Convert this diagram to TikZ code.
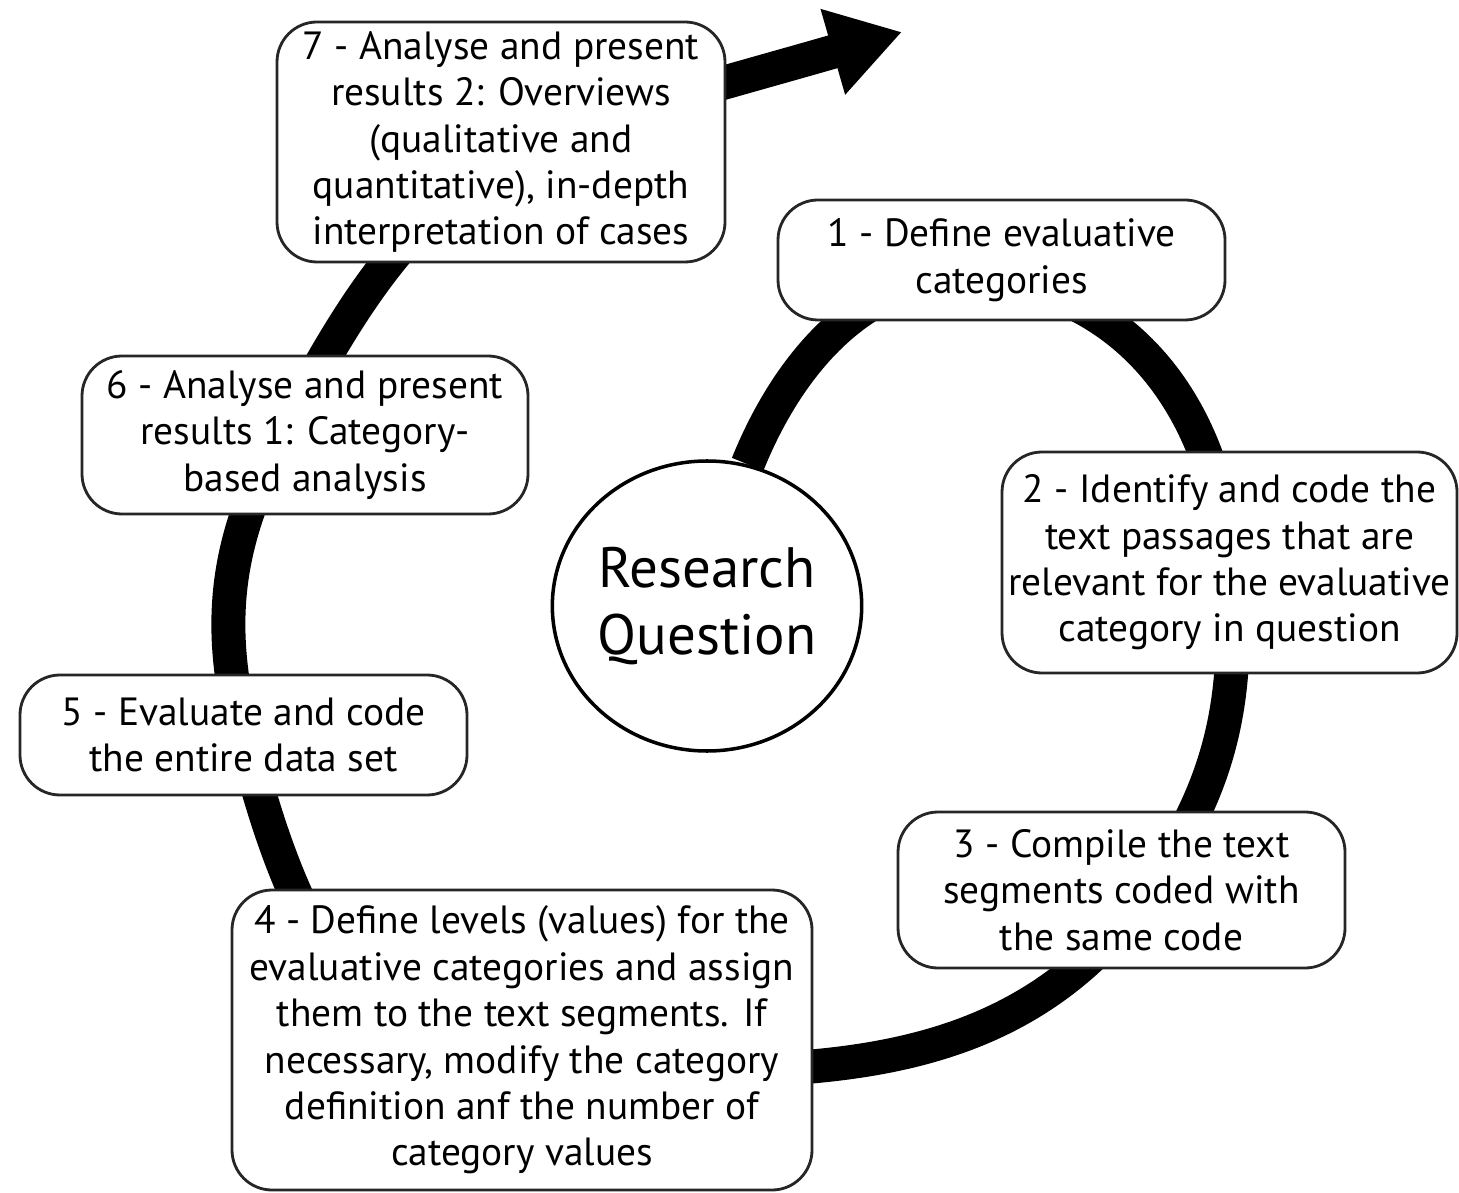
\documentclass[tikz,border=0pt]{standalone}
\usepackage{fontspec}
\setmainfont{PT Sans}
\usepackage{tikz}
\usetikzlibrary{arrows.meta,backgrounds,shapes.geometric}

\begin{document}
\begin{tikzpicture}[
    stepbox/.style={draw=black!85, line width=0.8pt, rounded corners=0.4cm, fill=white,
        align=center, inner sep=0pt, font=\fontsize{11.2}{13.2}\selectfont},
    cycleline/.style={line width=0.34cm}]
        \useasboundingbox (0,0) rectangle (14.59,11.92);
        % steps round the cycle
        \node[stepbox, minimum width=4.47cm, minimum height=1.20cm] (s1) at (10.015,9.32)
            {1 - Define evaluative\\categories};
        \node[stepbox, minimum width=4.55cm, minimum height=2.21cm] (s2) at (12.295,6.295)
            {2 - Identify and code the\\text passages that are\\relevant for the evaluative\\category in question};
        \node[stepbox, minimum width=4.47cm, minimum height=1.56cm] (s3) at (11.215,3.02)
            {3 - Compile the text\\segments coded with\\the same code};
        \node[stepbox, minimum width=5.80cm, minimum height=3.00cm] (s4) at (5.22,1.52)
            {4 - Define levels (values) for the\\evaluative categories and assign\\them to the text segments. If\\necessary, modify the category\\definition anf the number of\\category values};
        \node[stepbox, minimum width=4.47cm, minimum height=1.20cm] (s5) at (2.435,4.57)
            {5 - Evaluate and code\\the entire data set};
        \node[stepbox, minimum width=4.46cm, minimum height=1.58cm] (s6) at (3.05,7.57)
            {6 - Analyse and present\\results 1: Category-\\based analysis};
        \node[stepbox, minimum width=4.48cm, minimum height=2.40cm] (s7) at (5.01,10.50)
            {7 - Analyse and present\\results 2: Overviews\\(qualitative and\\quantitative), in-depth\\interpretation of cases};
        % centre
        \node[draw, ellipse, line width=1pt, fill=white, inner sep=0pt, minimum width=3.09cm, minimum height=2.90cm,
            align=center, font=\fontsize{16.2}{19.2}\selectfont] (rq) at (7.07,5.86) {Research\\Question};
        \coordinate (tip) at (9.02,11.60);
        % the spiral, behind the boxes
        \begin{scope}[on background layer]
            \draw[cycleline, -{Triangle[length=0.72cm, width=0.84cm]}] (rq.74)
                to[out=68, in=170] ([yshift=-2mm]s1.center)
                to[out=-10, in=95] (s2.center)
                to[out=-85, in=55] ([xshift=2.7mm]s3.center)
                to[out=235, in=0] ([yshift=-3mm]s4.center)
                to[out=180, in=284] (s5.center)
                to[out=104, in=242] ([xshift=-2.3mm]s6.center)
                to[out=62, in=197] ([xshift=9.9mm, yshift=2.4mm]s7.center)
                to[out=16, in=196] (tip);
        \end{scope}
\end{tikzpicture}
\end{document}
